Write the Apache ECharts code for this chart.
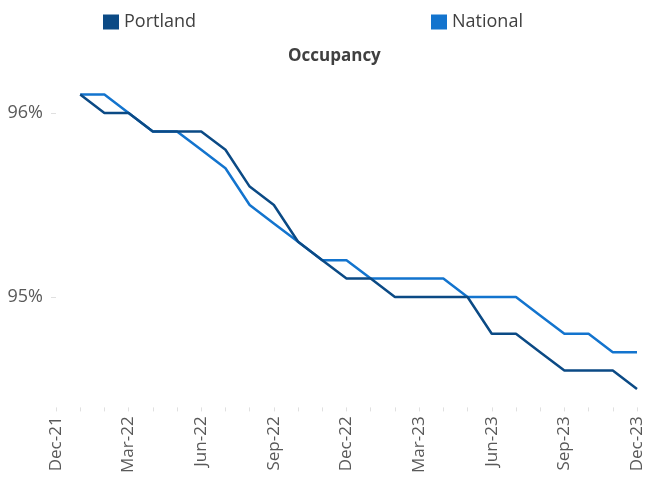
<!DOCTYPE html>
<html><head><meta charset="utf-8">
<script src="https://cdn.jsdelivr.net/npm/echarts@6/dist/echarts.min.js"></script>
<style>html,body{margin:0;padding:0;background:#fff}#c{width:647px;height:477px}</style>
</head><body><div id="c"></div>
<script>
const months = ['Dec-21','Jan-22','Feb-22','Mar-22','Apr-22','May-22','Jun-22','Jul-22','Aug-22','Sep-22','Oct-22','Nov-22','Dec-22','Jan-23','Feb-23','Mar-23','Apr-23','May-23','Jun-23','Jul-23','Aug-23','Sep-23','Oct-23','Nov-23','Dec-23'];
const portland = [null,96.1,96.0,96.0,95.9,95.9,95.9,95.8,95.6,95.5,95.3,95.2,95.1,95.1,95.0,95.0,95.0,95.0,94.8,94.8,94.7,94.6,94.6,94.6,94.5];
const national = [null,96.1,96.1,96.0,95.9,95.9,95.8,95.7,95.5,95.4,95.3,95.2,95.2,95.1,95.1,95.1,95.1,95.0,95.0,95.0,94.9,94.8,94.8,94.7,94.7];
const yTicks = [95, 96];
const FONT = '"Open Sans", "Noto Sans", sans-serif';
const chart = echarts.init(document.getElementById('c'), null, {renderer:'canvas'});
const legendText = {fontFamily:FONT, fontSize:18, color:'#404040', lineHeight:16};
chart.setOption({
  animation:false,
  title:{text:'Occupancy', left:283, top:43, textStyle:{fontFamily:FONT, fontSize:17, fontWeight:'bold', color:'#404040'}},
  legend:[
    {data:['Portland'], left:98, top:8, itemWidth:16, itemHeight:15, icon:'rect', itemGap:7, textStyle:legendText},
    {data:['National'], left:426, top:8, itemWidth:16, itemHeight:15, icon:'rect', itemGap:7, textStyle:legendText}
  ],
  grid:{left:56, right:10, top:76.2, bottom:69.6, containLabel:false},
  xAxis:{type:'category', data:months, boundaryGap:false,
    axisLine:{show:false},
    axisTick:{show:true, interval:0, length:4, lineStyle:{color:'#E0E0E0'}},
    axisLabel:{interval:2, rotate:90, margin:9, fontFamily:FONT, fontSize:17, color:'#595959'}},
  yAxis:{type:'value', min:94.4, max:96.2,
    splitLine:{show:false}, axisLine:{show:false},
    axisTick:{show:true, length:5, customValues:yTicks, lineStyle:{color:'#E0E0E0'}},
    axisLabel:{customValues:yTicks, margin:13, fontFamily:FONT, fontSize:18, color:'#595959', formatter:v=>Math.round(v)+'%'}},
  series:[
    {name:'Portland', type:'line', data:portland, symbol:'none', color:'#0B4A85', lineStyle:{width:2.5, color:'#0B4A85'}, z:3},
    {name:'National', type:'line', data:national, symbol:'none', color:'#1374CE', lineStyle:{width:2.5, color:'#1374CE'}, z:2}
  ]
});
</script></body></html>
